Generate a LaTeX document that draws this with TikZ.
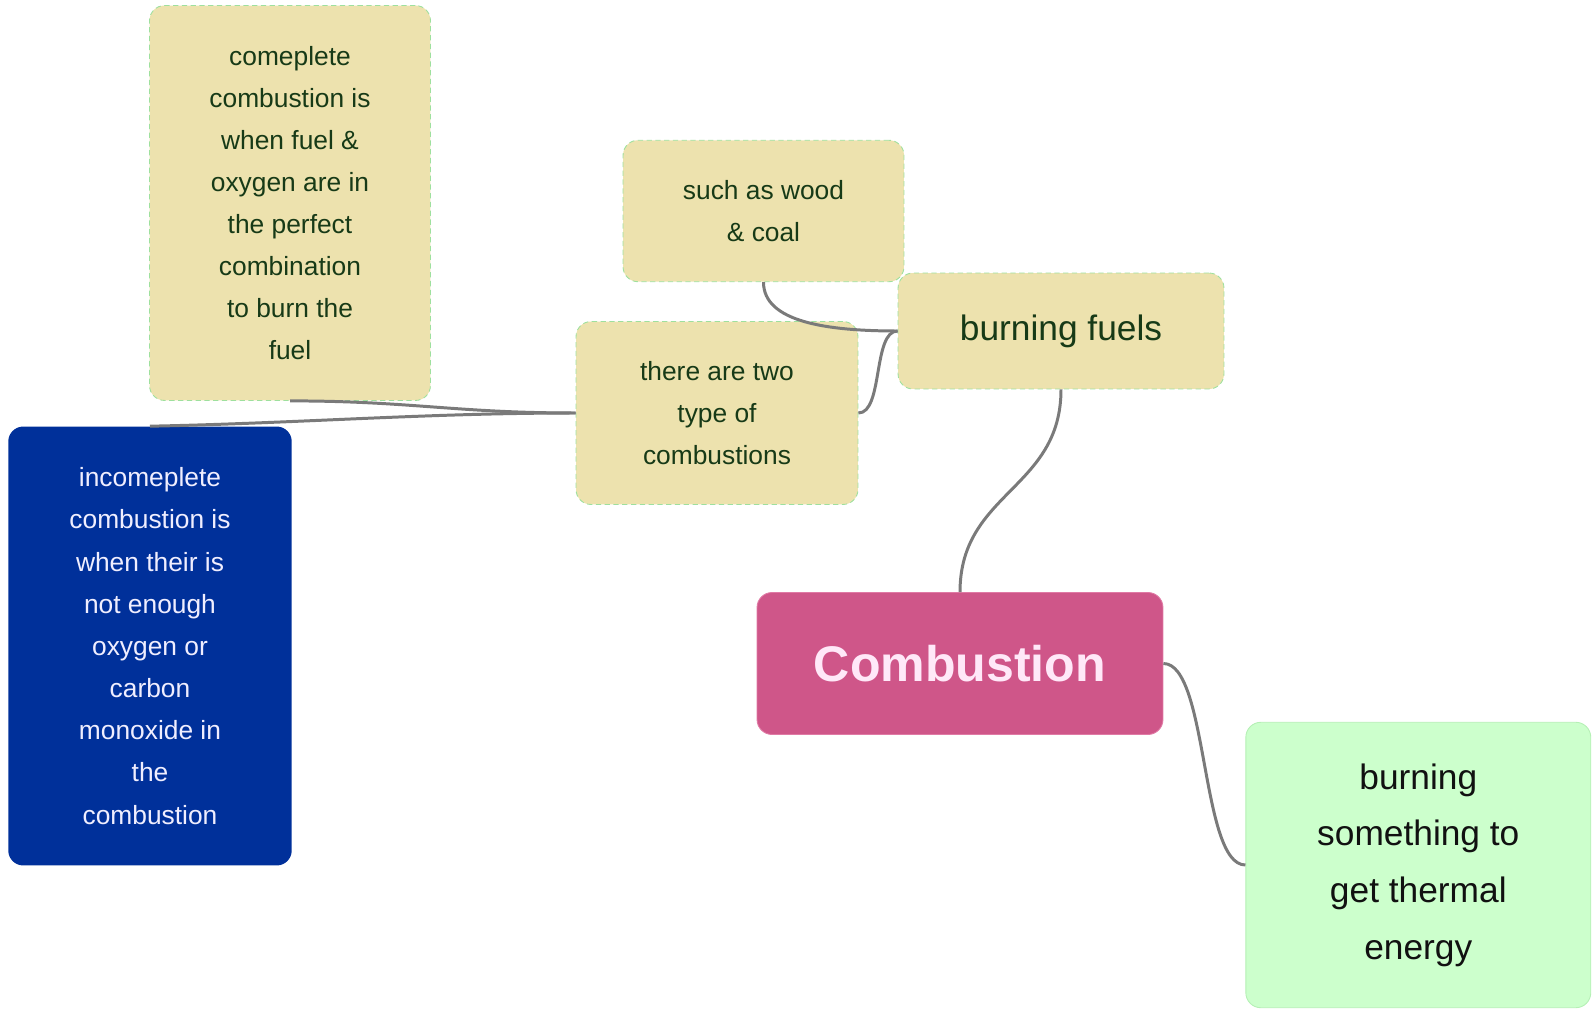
\documentclass[tikz,border=0pt]{standalone}
\usepackage{fontspec}
\setmainfont{Liberation Sans}
\usepackage{tikz}

\definecolor{fuelfill}{HTML}{EDE2AE}
\definecolor{fueledge}{HTML}{9EE09E}
\definecolor{fueltext}{HTML}{173A17}
\definecolor{lackfill}{HTML}{00309A}
\definecolor{mainfill}{HTML}{CF5689}
\definecolor{mainedge}{HTML}{E07AA5}
\definecolor{heatfill}{HTML}{CCFFCC}
\definecolor{heatedge}{HTML}{B5F0B5}
\definecolor{linkgray}{HTML}{7A7A7A}

\begin{document}
\begin{tikzpicture}[x=0.02cm, y=-0.02cm,
	idea/.style={rectangle, rounded corners=0.3cm, align=center, inner sep=0pt},
	fuelbox/.style={idea, fill=fuelfill, draw=fueledge, densely dashed, line width=0.5pt, text=fueltext, font=\fontsize{15}{23.9}\selectfont},
	link/.style={draw=linkgray, line width=1.7pt}]
		\useasboundingbox (0,0) rectangle (1593,1010);

		% boxes
		\node[fuelbox, minimum width=5.62cm, minimum height=7.9cm] (complete) at (290,203)
			{comeplete\\combustion is\\when fuel \&\\oxygen are in\\the perfect\\combination\\to burn the\\fuel};
		\node[fuelbox, minimum width=5.62cm, minimum height=2.83cm] (wood) at (763.5,211)
			{such as wood\\\& coal};
		\node[fuelbox, minimum width=6.52cm, minimum height=2.32cm, font=\fontsize{20.1}{24}\selectfont] (fuels) at (1061,331)
			{burning fuels};
		\node[fuelbox, minimum width=5.64cm, minimum height=3.66cm] (two) at (717,413)
			{there are two\\type of\\combustions};
		\node[idea, fill=lackfill, text={rgb,255:red,240;green,238;blue,255}, minimum width=5.67cm, minimum height=8.78cm,
			font=\fontsize{15}{24}\selectfont] (incomplete) at (150,646)
			{incomeplete\\combustion is\\when their is\\not enough\\oxygen or\\carbon\\monoxide in\\the\\combustion};
		\node[idea, fill=mainfill, draw=mainedge, line width=0.5pt, text={rgb,255:red,255;green,232;blue,248},
			minimum width=8.12cm, minimum height=2.84cm, font=\fontsize{28.5}{34}\selectfont\bfseries] (comb) at (960,663.5)
			{Combustion};
		\node[idea, fill=heatfill, draw=heatedge, line width=0.5pt, text={rgb,255:red,17;green,17;blue,17},
			minimum width=6.9cm, minimum height=5.71cm, font=\fontsize{20.1}{32.3}\selectfont] (thermal) at (1418.3,865)
			{burning\\something to\\get thermal\\energy};

		% links
		\draw[link] (comb.north) .. controls +(0,-100) and +(0,100) .. (fuels.south);
		\draw[link] (comb.east) .. controls +(45,0) and +(-45,0) .. (thermal.west);
		\draw[link] (fuels.west) .. controls +(-70,0) and +(0,40) .. (wood.south);
		\draw[link] (fuels.west) .. controls +(-25,0) and +(25,0) .. (two.east);
		\draw[link] (two.west) .. controls +(-120,0) and +(120,0) .. (complete.south);
		\draw[link] (two.west) .. controls +(-150,0) and +(150,-3) .. (incomplete.north);
\end{tikzpicture}
\end{document}
